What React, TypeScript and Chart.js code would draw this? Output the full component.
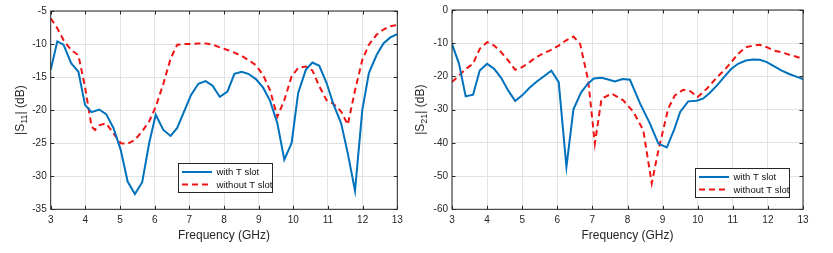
import React, { useEffect, useRef } from "react";
import { Chart, registerables } from "chart.js";
Chart.register(...registerables);

// ---------- data ----------
const freqTicks = [3, 4, 5, 6, 7, 8, 9, 10, 11, 12, 13];

// |S11| with T slot
const s11WithFreq = [3.0, 3.19, 3.37, 3.59, 3.8, 3.99, 4.18, 4.4, 4.6, 4.81, 5.02, 5.22, 5.43, 5.64, 5.84, 6.03, 6.25, 6.46, 6.65, 6.85, 7.05, 7.26, 7.47, 7.67, 7.88, 8.1, 8.3, 8.51, 8.7, 8.92, 9.13, 9.33, 9.54, 9.74, 9.95, 10.14, 10.36, 10.55, 10.75, 10.96, 11.15, 11.38, 11.57, 11.78, 11.99, 12.18, 12.4, 12.6, 12.8, 13.0];
const s11WithDb = [-13.9, -9.6, -10.1, -12.9, -14.2, -19.2, -20.3, -19.9, -20.6, -22.7, -26, -30.8, -32.7, -30.9, -25, -20.7, -23, -23.9, -22.7, -20.2, -17.7, -16, -15.6, -16.3, -18, -17.2, -14.5, -14.2, -14.5, -15.3, -16.6, -18.6, -22, -27.5, -25, -17.4, -13.9, -12.8, -13.3, -15.9, -19, -22, -26.5, -32.2, -20, -14.4, -11.7, -9.9, -9, -8.5];

// |S11| without T slot
const s11WithoutFreq = [3.0, 3.19, 3.37, 3.59, 3.8, 3.99, 4.18, 4.28, 4.4, 4.6, 4.81, 5.02, 5.22, 5.43, 5.64, 5.84, 6.03, 6.25, 6.46, 6.65, 6.85, 7.05, 7.26, 7.47, 7.67, 7.88, 8.1, 8.3, 8.51, 8.7, 8.92, 9.13, 9.33, 9.54, 9.74, 9.95, 10.14, 10.36, 10.55, 10.75, 10.96, 11.15, 11.38, 11.57, 11.78, 11.99, 12.18, 12.4, 12.6, 12.8, 13.0];
const s11WithoutDb = [-6.1, -7.6, -9.4, -10.9, -11.7, -16.5, -22.5, -23, -22.3, -22, -23.5, -25, -25.1, -24.5, -23.2, -21.7, -19.5, -16, -12.2, -10.1, -10, -10, -9.9, -9.9, -10.1, -10.5, -10.9, -11.3, -11.8, -12.4, -13.2, -14.7, -17, -21, -18.5, -14.9, -13.6, -13.4, -14, -16.4, -18.5, -19, -20.2, -22.2, -17, -12.4, -10.1, -8.6, -7.8, -7.3, -7.1];

// |S21| with T slot
const s21WithFreq = [3.0, 3.2, 3.39, 3.6, 3.79, 4.0, 4.2, 4.4, 4.6, 4.8, 5.0, 5.21, 5.4, 5.61, 5.83, 6.04, 6.26, 6.46, 6.68, 6.87, 7.04, 7.26, 7.45, 7.64, 7.86, 8.07, 8.36, 8.64, 8.88, 9.12, 9.34, 9.5, 9.73, 9.97, 10.15, 10.34, 10.55, 10.75, 10.96, 11.15, 11.37, 11.58, 11.77, 11.97, 12.17, 12.38, 12.59, 12.79, 13.0];
const s21WithDb = [-10.2, -16.2, -26, -25.5, -18.2, -16.2, -17.7, -20.4, -24.2, -27.4, -25.7, -23.4, -21.7, -20, -18.3, -21.7, -47.2, -29.9, -24.8, -22.2, -20.6, -20.4, -20.9, -21.5, -20.8, -21, -28.2, -34.2, -40.2, -41.4, -35.7, -30.7, -27.5, -27.3, -26.7, -25, -22.7, -20.2, -17.7, -16.2, -15.2, -14.9, -15, -15.7, -16.9, -18.2, -19.2, -20, -20.8];

// |S21| without T slot
const s21WithoutFreq = [3.0, 3.2, 3.4, 3.6, 3.79, 4.0, 4.2, 4.4, 4.6, 4.8, 5.0, 5.21, 5.4, 5.61, 5.83, 6.04, 6.24, 6.46, 6.65, 6.88, 7.07, 7.26, 7.55, 7.88, 8.17, 8.45, 8.69, 8.88, 9.16, 9.35, 9.59, 9.8, 10.0, 10.26, 10.55, 10.75, 10.96, 11.15, 11.37, 11.58, 11.77, 11.97, 12.17, 12.38, 12.59, 12.79, 13.0];
const s21WithoutDb = [-21.7, -19.7, -17.7, -16.2, -11.7, -9.7, -10.7, -12.7, -15.2, -18, -17.2, -15.7, -14.2, -13, -12, -10.7, -9.2, -8, -10.2, -21.2, -40.2, -26.7, -25.2, -27.2, -30.7, -36.2, -52.2, -42.2, -29.7, -25.7, -24, -24.5, -26.2, -23.7, -20.2, -18.2, -15.7, -13.2, -11.2, -10.7, -10.5, -11.2, -12.2, -12.7, -13.4, -14, -14.7];

const legendLabels = ["with T slot", "without T slot"];

const BLUE = "#0072BD";
const RED = "#F01414";
const AXIS = "#262626";
const GRID = "#e3e3e3";
const FONT = "'Liberation Sans', Arial, sans-serif";

const toPts = (xs: number[], ys: number[]) => xs.map((x, i) => ({ x, y: ys[i] }));

type Cfg = {
  yMin: number;
  yMax: number;
  yStep: number;
  withF: number[];
  withY: number[];
  withoutF: number[];
  withoutY: number[];
  sub: string;
  yAxisWidth: number;
  padTop: number;
  padRight: number;
  titleBaselineX: number;
  legendX: number;
  legendY: number;
};

const framePlugin = {
  id: "frameTicks",
  afterDraw(chart: any, _a: any, opts: any) {
    const { ctx, chartArea: ca, scales } = chart;
    ctx.save();
    ctx.strokeStyle = AXIS;
    ctx.lineWidth = 1;
    ctx.strokeRect(ca.left, ca.top, ca.right - ca.left, ca.bottom - ca.top);
    const tl = 3.5;
    ctx.beginPath();
    scales.x.ticks.forEach((t: any) => {
      const px = Math.round(scales.x.getPixelForValue(t.value)) + 0.5;
      ctx.moveTo(px, ca.bottom);
      ctx.lineTo(px, ca.bottom - tl);
      ctx.moveTo(px, ca.top);
      ctx.lineTo(px, ca.top + tl);
    });
    scales.y.ticks.forEach((t: any) => {
      const py = Math.round(scales.y.getPixelForValue(t.value)) + 0.5;
      ctx.moveTo(ca.left, py);
      ctx.lineTo(ca.left + tl, py);
      ctx.moveTo(ca.right, py);
      ctx.lineTo(ca.right - tl, py);
    });
    ctx.stroke();

    // y title with subscript
    const cy = (ca.top + ca.bottom) / 2;
    ctx.translate(opts.titleBaselineX, cy);
    ctx.rotate(-Math.PI / 2);
    ctx.fillStyle = AXIS;
    ctx.textBaseline = "alphabetic";
    ctx.textAlign = "left";
    const big = `12px ${FONT}`;
    const small = `9px ${FONT}`;
    ctx.font = big;
    const p1 = "|S";
    const p3 = "| (dB)";
    const w1 = ctx.measureText(p1).width;
    const w3 = ctx.measureText(p3).width;
    ctx.font = small;
    const w2 = ctx.measureText(opts.sub).width;
    let x0 = -(w1 + w2 + w3) / 2;
    ctx.font = big;
    ctx.fillText(p1, x0, 0);
    x0 += w1;
    ctx.font = small;
    ctx.fillText(opts.sub, x0, 3);
    x0 += w2;
    ctx.font = big;
    ctx.fillText(p3, x0, 0);
    ctx.restore();

    // legend
    const lw = 94;
    const lh = 29;
    const lx = Math.round(ca.left + opts.legendX * (ca.right - ca.left)) + 0.5;
    const ly = Math.round(ca.top + opts.legendY * (ca.bottom - ca.top)) + 0.5;
    ctx.save();
    ctx.fillStyle = "#ffffff";
    ctx.fillRect(lx, ly, lw, lh);
    ctx.strokeStyle = AXIS;
    ctx.lineWidth = 1;
    ctx.strokeRect(lx, ly, lw, lh);
    const rows = [
      { label: legendLabels[0], color: BLUE, dash: [] as number[] },
      { label: legendLabels[1], color: RED, dash: [6, 4] },
    ];
    rows.forEach((r, i) => {
      const yy = ly + 8.5 + i * 12.6;
      ctx.beginPath();
      ctx.setLineDash(r.dash);
      ctx.strokeStyle = r.color;
      ctx.lineWidth = 2;
      ctx.moveTo(lx + 3.5, yy);
      ctx.lineTo(lx + 33.5, yy);
      ctx.stroke();
      ctx.setLineDash([]);
      ctx.fillStyle = "#111";
      ctx.font = `9.5px ${FONT}`;
      ctx.textBaseline = "middle";
      ctx.textAlign = "left";
      ctx.fillText(r.label, lx + 38, yy + 0.5);
    });
    ctx.restore();
  },
};

function SPlot({ cfg, width, left }: { cfg: Cfg; width: number; left: number }) {
  const ref = useRef<HTMLCanvasElement | null>(null);
  useEffect(() => {
    if (!ref.current) return;
    const chart = new Chart(ref.current, {
      type: "line",
      data: {
        datasets: [
          {
            label: legendLabels[0],
            data: toPts(cfg.withF, cfg.withY),
            borderColor: BLUE,
            borderWidth: 2,
            pointRadius: 0,
            tension: 0,
            fill: false,
          },
          {
            label: legendLabels[1],
            data: toPts(cfg.withoutF, cfg.withoutY),
            borderColor: RED,
            borderWidth: 2,
            borderDash: [6, 4],
            pointRadius: 0,
            tension: 0,
            fill: false,
          },
        ],
      },
      options: {
        responsive: false,
        animation: false,
        devicePixelRatio: 1,
        layout: { padding: { top: cfg.padTop, right: cfg.padRight, left: 0, bottom: 0 } },
        plugins: {
          legend: { display: false },
          tooltip: { enabled: false },
          frameTicks: {
            sub: cfg.sub,
            titleBaselineX: cfg.titleBaselineX,
            legendX: cfg.legendX,
            legendY: cfg.legendY,
          },
        } as any,
        scales: {
          x: {
            type: "linear",
            min: 3,
            max: 13,
            afterBuildTicks: (s: any) => {
              s.ticks = freqTicks.map((v) => ({ value: v }));
            },
            afterFit: (s: any) => {
              s.height = 43.7;
            },
            ticks: {
              autoSkip: false,
              maxRotation: 0,
              padding: 5,
              color: AXIS,
              font: { family: FONT, size: 10 },
            },
            grid: { color: GRID, drawTicks: false, lineWidth: 1 },
            border: { display: false },
            title: {
              display: true,
              text: "Frequency (GHz)",
              color: AXIS,
              font: { family: FONT, size: 12 },
              padding: { top: 0, bottom: 10.3 },
            },
          },
          y: {
            type: "linear",
            min: cfg.yMin,
            max: cfg.yMax,
            ticks: {
              stepSize: cfg.yStep,
              padding: 4,
              color: AXIS,
              font: { family: FONT, size: 10 },
            },
            afterFit: (s: any) => {
              s.width = cfg.yAxisWidth;
            },
            grid: { color: GRID, drawTicks: false, lineWidth: 1 },
            border: { display: false },
          },
        },
      },
      plugins: [framePlugin],
    });
    return () => chart.destroy();
  }, [cfg]);
  return (
    <canvas
      ref={ref}
      width={width}
      height={253}
      style={{ position: "absolute", left, top: 0, width, height: 253 }}
    />
  );
}

const leftCfg: Cfg = {
  yMin: -35,
  yMax: -5,
  yStep: 5,
  withF: s11WithFreq,
  withY: s11WithDb,
  withoutF: s11WithoutFreq,
  withoutY: s11WithoutDb,
  sub: "11",
  yAxisWidth: 50.7,
  padTop: 11,
  padRight: 17.7,
  titleBaselineX: 23.5,
  legendX: 0.367,
  legendY: 0.767,
};

const rightCfg: Cfg = {
  yMin: -60,
  yMax: 0,
  yStep: 10,
  withF: s21WithFreq,
  withY: s21WithDb,
  withoutF: s21WithoutFreq,
  withoutY: s21WithoutDb,
  sub: "21",
  yAxisWidth: 42,
  padTop: 9.3,
  padRight: 30,
  titleBaselineX: 13.5,
  legendX: 0.692,
  legendY: 0.793,
};

export default function App() {
  return (
    <div style={{ position: "fixed", left: 0, top: 0, width: 833, height: 253, background: "#fff" }}>
      <SPlot cfg={leftCfg} width={415} left={0} />
      <SPlot cfg={rightCfg} width={423} left={410} />
    </div>
  );
}
